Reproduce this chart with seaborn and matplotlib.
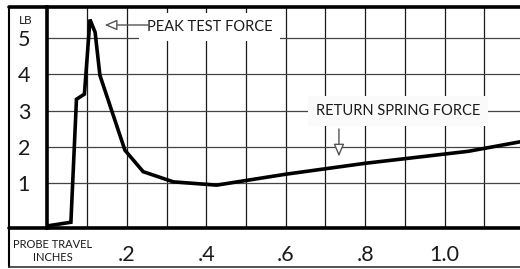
import matplotlib
matplotlib.use("Agg")
import matplotlib.pyplot as plt
from matplotlib.lines import Line2D
import numpy as np
import pandas as pd
import seaborn as sns

# probe travel (inches) vs force (lb)
travel = [0.0, 0.059, 0.073, 0.093, 0.107, 0.12, 0.132, 0.195, 0.241,
          0.317, 0.426, 0.6, 0.8, 1.06, 1.19]
force = [-0.17, -0.07, 3.31, 3.45, 5.5, 5.15, 3.97, 1.91, 1.32,
         1.04, 0.95, 1.25, 1.55, 1.88, 2.14]

x_ticks = [0.2, 0.4, 0.6, 0.8, 1.0]
x_labels = [".2", ".4", ".6", ".8", "1.0"]
y_ticks = [1, 2, 3, 4, 5]
y_labels = ["1", "2", "3", "4", "5"]
x_grid = [0.1, 0.3, 0.5, 0.7, 0.9, 1.1]

sns.set_style("white")
plt.rcParams['font.family'] = ['Lato', 'DejaVu Sans']

df = pd.DataFrame({'travel': travel, 'force': force})

fig = plt.figure(figsize=(5.2, 2.69), dpi=100)
ax = fig.add_axes([0.0913, 0.1524, 0.9087, 0.8216])

# grid first
for xv in x_grid + x_ticks:
    ax.axvline(xv, color='#1a1a1a', lw=0.9, zorder=1)
for yv in y_ticks:
    ax.axhline(yv, color='#444444', lw=0.9, zorder=1)

sns.lineplot(data=df, x='travel', y='force', color='black', lw=2.6,
             ax=ax, zorder=5, solid_joinstyle='miter')

ax.set_xlim(0, 1.19)
ax.set_ylim(-0.228, 5.845)
ax.set_xticks(x_ticks)
ax.set_xticklabels(x_labels)
ax.set_yticks(y_ticks)
ax.set_yticklabels(y_labels)
ax.tick_params(axis='both', length=7, width=0.9, color='#444444',
               labelsize=15.5, pad=5.5, labelcolor='#1a1a1a')
ax.set_xlabel('')
ax.set_ylabel('')

for side in ['left', 'top', 'bottom']:
    ax.spines[side].set_linewidth(2.6)
    ax.spines[side].set_color('black')
ax.spines['right'].set_visible(False)

head = '-|>,head_length=0.75,head_width=0.32'

# annotations
ax.text(0.25, 5.29, "PEAK TEST FORCE", fontsize=10.5, color='#1a1a1a',
        va='center', ha='left', zorder=6,
        bbox=dict(boxstyle='square,pad=0.5', fc='white', ec='none'))
ax.annotate("", xy=(0.137, 5.35), xytext=(0.262, 5.35),
            arrowprops=dict(arrowstyle=head, fc='white', ec='#555555', lw=1),
            zorder=7)

ax.text(0.883, 3.0, "RETURN SPRING FORCE", fontsize=10.5, color='#1a1a1a',
        va='center', ha='center', zorder=6,
        bbox=dict(boxstyle='square,pad=0.55', fc='#fafafa', ec='none'))
ax.annotate("", xy=(0.734, 1.66), xytext=(0.734, 2.57),
            arrowprops=dict(arrowstyle=head, fc='white', ec='#555555', lw=1),
            zorder=7)

# outer frame pieces
fx0 = 9 / 520
fig.add_artist(Line2D([fx0, fx0], [0.0086, 0.974], color='black', lw=1.5))
fig.add_artist(Line2D([fx0, 1.0], [0.0086, 0.0086], color='#333333', lw=1.2))
fig.add_artist(Line2D([fx0, 0.0913], [0.974, 0.974], color='black', lw=2.6))
fig.add_artist(Line2D([fx0, 0.0913], [0.1524, 0.1524], color='black', lw=2.6))

fig.text(26 / 520, 1 - 21 / 269, "LB", fontsize=8.5, ha='center', va='center',
         color='#1a1a1a')
fig.text(53 / 520, 1 - 251 / 269, "PROBE TRAVEL\nINCHES", fontsize=8,
         ha='center', va='center', color='#1a1a1a', linespacing=1.25)

fig.savefig("out.png", dpi=100)
